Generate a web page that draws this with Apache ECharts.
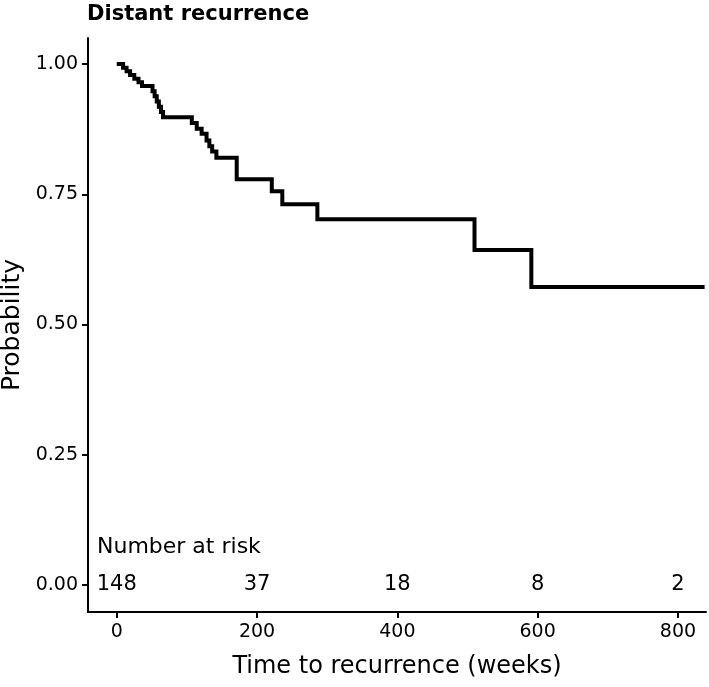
<!DOCTYPE html>
<html>
<head>
<meta charset="utf-8">
<script src="https://cdn.jsdelivr.net/npm/echarts@6/dist/echarts.min.js"></script>
<style>
html,body{margin:0;padding:0;background:#fff;}
#chart{width:709px;height:687px;}
</style>
</head>
<body>
<div id="chart"></div>
<script>
// Kaplan-Meier step points (time in weeks, survival probability after the event)
const eventTimes = [0, 9, 14, 19, 25, 31, 36, 51, 54, 57, 60, 63, 66, 107, 114, 121, 128, 132, 136, 142, 171, 221, 236, 286, 510, 591, 838];
const survival   = [1.0, 0.993, 0.986, 0.979, 0.972, 0.965, 0.958, 0.948, 0.938, 0.928, 0.918, 0.908, 0.898, 0.887, 0.876, 0.866, 0.853, 0.842, 0.832, 0.820, 0.779, 0.756, 0.731, 0.702, 0.643, 0.572, 0.572];

// Number at risk table
const riskTimes  = [0, 200, 400, 600, 800];
const riskCounts = [148, 37, 18, 8, 2];

// Tick labels
const xTicks = [0, 200, 400, 600, 800];
const yTicks = [0, 0.25, 0.5, 0.75, 1.0];

const FONT = 'DejaVu Sans';
const chart = echarts.init(document.getElementById('chart'));

chart.setOption({
  animation: false,
  backgroundColor: '#ffffff',
  title: {
    text: 'Distant recurrence',
    left: 87,
    top: 4,
    padding: 0,
    textStyle: { fontFamily: FONT, fontWeight: 'bold', fontSize: 21, color: '#000' }
  },
  grid: { left: 88, right: 3, top: 38, bottom: 75, containLabel: false, outerBoundsMode: 'none' },
  xAxis: {
    type: 'value',
    min: -41,
    max: 840,
    name: 'Time to recurrence (weeks)',
    nameLocation: 'middle',
    nameGap: 43,
    nameTextStyle: { fontFamily: FONT, fontSize: 24, color: '#000' },
    axisLine: { show: true, onZero: false, lineStyle: { color: '#000', width: 2 } },
    axisTick: { show: true, customValues: xTicks, length: 6, lineStyle: { color: '#000', width: 2 } },
    axisLabel: { customValues: xTicks, fontFamily: FONT, fontSize: 19, color: '#000', margin: 11 },
    splitLine: { show: false }
  },
  yAxis: {
    type: 'value',
    min: -0.052,
    max: 1.05,
    name: 'Probability',
    nameLocation: 'middle',
    nameGap: 62,
    nameTextStyle: { fontFamily: FONT, fontSize: 25, color: '#000' },
    axisLine: { show: true, onZero: false, lineStyle: { color: '#000', width: 2 } },
    axisTick: { show: true, customValues: yTicks, length: 6, lineStyle: { color: '#000', width: 2 } },
    axisLabel: {
      customValues: yTicks,
      fontFamily: FONT, fontSize: 19, color: '#000', margin: 10,
      formatter: v => v.toFixed(2)
    },
    splitLine: { show: false }
  },
  graphic: [{
    type: 'text',
    left: 97,
    top: 536,
    style: { text: 'Number at risk', font: '22px "DejaVu Sans"', fill: '#000' }
  }],
  series: [
    {
      type: 'line',
      step: 'end',
      showSymbol: false,
      symbol: 'none',
      data: eventTimes.map((t, i) => [t, survival[i]]),
      lineStyle: { color: '#000', width: 4, join: 'miter', cap: 'butt' },
      z: 3
    },
    {
      type: 'scatter',
      symbolSize: 2,
      itemStyle: { color: 'rgba(0,0,0,0)' },
      silent: true,
      data: riskTimes.map(t => [t, 0]),
      label: {
        show: true,
        position: 'inside',
        formatter: p => String(riskCounts[p.dataIndex]),
        fontFamily: FONT, fontSize: 21, color: '#000', opacity: 1
      },
      labelLayout: { hideOverlap: false },
      z: 4
    }
  ]
});
</script>
</body>
</html>
